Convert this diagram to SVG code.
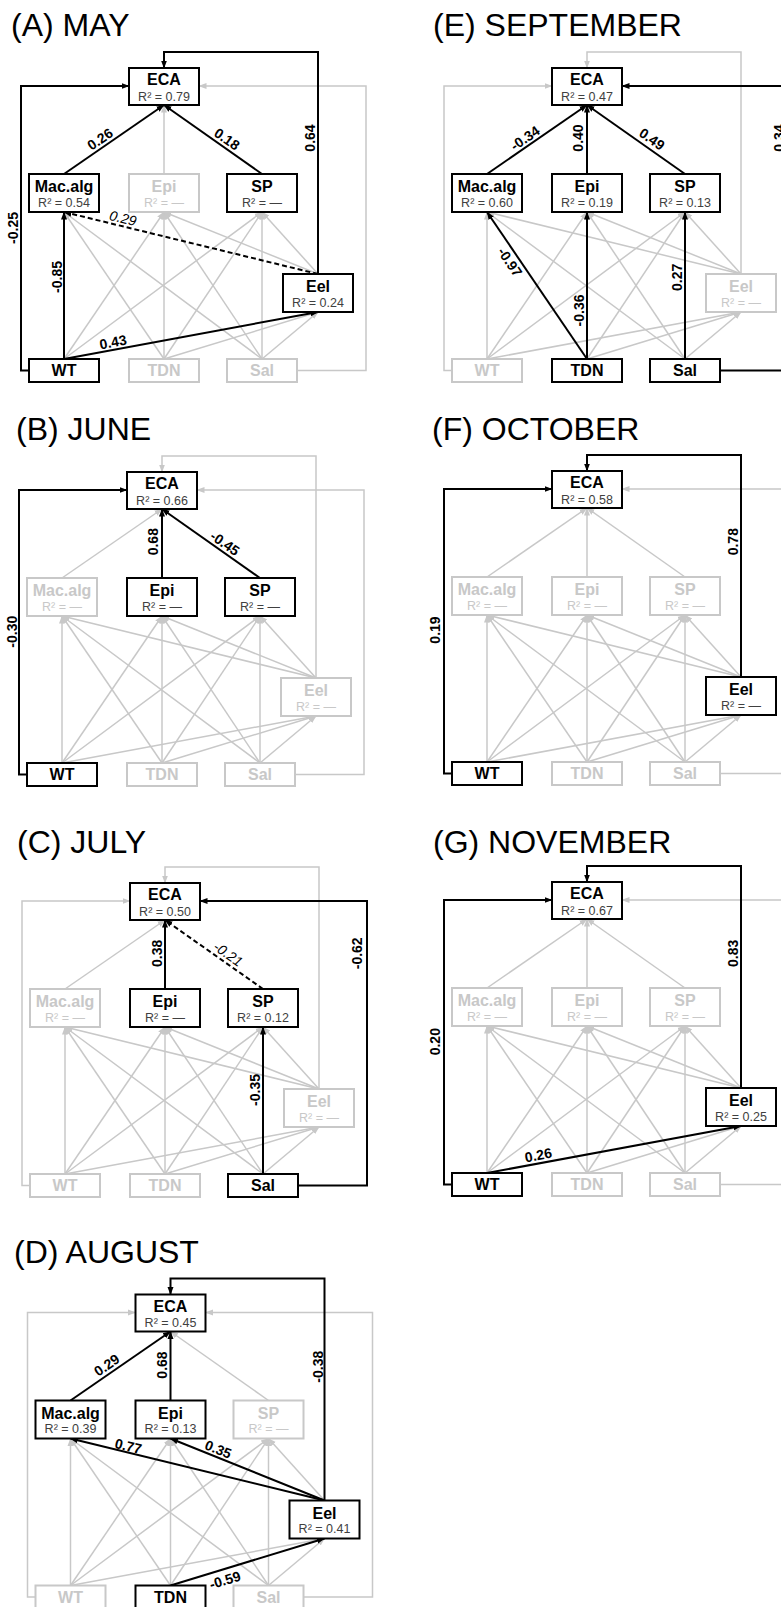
<svg xmlns="http://www.w3.org/2000/svg" width="781" height="1607" viewBox="0 0 781 1607">
<style>
.bg{fill:#fff}
.t{font-family:"Liberation Sans",Arial,sans-serif;font-size:32px;fill:#000}
.g{fill:none;stroke:#c8c8c8;stroke-width:1.5;marker-end:url(#ag)}
.k{fill:none;stroke:#000;stroke-width:2;marker-end:url(#ak)}
.d{stroke-dasharray:5 3}
.nk rect{fill:#fff;stroke:#000;stroke-width:2}
.ng rect{fill:#fff;stroke:#c8c8c8;stroke-width:2}
.n{font-family:"Liberation Sans",Arial,sans-serif;font-size:16px;font-weight:bold;text-anchor:middle}
.r{font-family:"Liberation Sans",Arial,sans-serif;font-size:12.5px;text-anchor:middle}
.nk .n{fill:#000}
.nk .r{fill:#404040}
.ng text{fill:#c8c8c8}
.l{font-family:"Liberation Sans",Arial,sans-serif;font-size:14px;font-weight:bold;text-anchor:middle;fill:#000}
.i{font-weight:normal;font-style:italic}
</style>
<defs>
<marker id="ak" markerUnits="userSpaceOnUse" markerWidth="8" markerHeight="8" viewBox="0 0 8 8" refX="7.5" refY="4" orient="auto"><path d="M0,1 L8,4 L0,7 Z" fill="#000"/></marker>
<marker id="ag" markerUnits="userSpaceOnUse" markerWidth="8" markerHeight="8" viewBox="0 0 8 8" refX="7.5" refY="4" orient="auto"><path d="M0,1 L8,4 L0,7 Z" fill="#c8c8c8"/></marker>
</defs>
<rect class="bg" x="0" y="0" width="781" height="1607"/>

<text class="t" x="11" y="36">(A) MAY</text>
<text class="t" x="433" y="36">(E) SEPTEMBER</text>
<text class="t" x="16" y="440">(B) JUNE</text>
<text class="t" x="432" y="440">(F) OCTOBER</text>
<text class="t" x="17" y="853">(C) JULY</text>
<text class="t" x="433" y="853">(G) NOVEMBER</text>
<text class="t" x="14" y="1263">(D) AUGUST</text>

<!-- PANEL A -->
<g id="panelA" transform="translate(0,0)">
<g id="A-connectors">
<path class="g" d="M164,174L164,105"/>
<path class="g" d="M64,359L164,212"/>
<path class="g" d="M64,359L262,212"/>
<path class="g" d="M164,359L64,212"/>
<path class="g" d="M164,359L164,212"/>
<path class="g" d="M164,359L262,212"/>
<path class="g" d="M164,359L318,312"/>
<path class="g" d="M262,359L64,212"/>
<path class="g" d="M262,359L164,212"/>
<path class="g" d="M262,359L262,212"/>
<path class="g" d="M262,359L318,312"/>
<path class="g" d="M318,274L164,212"/>
<path class="g" d="M318,274L262,212"/>
<path class="g" d="M297,370.5H366V86H199"/>
<path class="k" d="M64,174L164,105"/>
<path class="k" d="M262,174L164,105"/>
<path class="k" d="M64,359L64,212"/>
<path class="k d" d="M318,274L64,212"/>
<path class="k" d="M64,359L318,312"/>
<path class="k" d="M318,274V52H164V68"/>
<path class="k" d="M29,370.5H21V86H129"/>
<text class="l" transform="translate(100,139) rotate(-34.6)" y="5">0.26</text>
<text class="l" transform="translate(227,139) rotate(35.1)" y="5">0.18</text>
<text class="l" transform="translate(57,277) rotate(-90)" y="5">-0.85</text>
<text class="l i" transform="translate(123,218) rotate(13.7)" y="5">0.29</text>
<text class="l" transform="translate(310,138) rotate(-90)" y="5">0.64</text>
<text class="l" transform="translate(13,228) rotate(-90)" y="5">-0.25</text>
<text class="l" transform="translate(113,342) rotate(-10.5)" y="5">0.43</text>
</g>
<g id="A-ECA" class="nk"><rect x="129" y="68" width="70" height="37"/><text class="n" x="164" y="85">ECA</text><text class="r" x="164" y="100.5">R² = 0.79</text></g>
<g id="A-Macalg" class="nk"><rect x="29" y="174" width="70" height="38"/><text class="n" x="64" y="192">Mac.alg</text><text class="r" x="64" y="206.5">R² = 0.54</text></g>
<g id="A-Epi" class="ng"><rect x="129" y="174" width="70" height="38"/><text class="n" x="164" y="192">Epi</text><text class="r" x="164" y="206.5">R² = —</text></g>
<g id="A-SP" class="nk"><rect x="227" y="174" width="70" height="38"/><text class="n" x="262" y="192">SP</text><text class="r" x="262" y="206.5">R² = —</text></g>
<g id="A-Eel" class="nk"><rect x="283" y="274" width="70" height="38"/><text class="n" x="318" y="292">Eel</text><text class="r" x="318" y="306.5">R² = 0.24</text></g>
<g id="A-WT" class="nk"><rect x="29" y="359" width="70" height="23"/><text class="n" x="64" y="376">WT</text></g>
<g id="A-TDN" class="ng"><rect x="129" y="359" width="70" height="23"/><text class="n" x="164" y="376">TDN</text></g>
<g id="A-Sal" class="ng"><rect x="227" y="359" width="70" height="23"/><text class="n" x="262" y="376">Sal</text></g>
</g>

<!-- PANEL E -->
<g id="panelE" transform="translate(423,0)">
<g id="E-connectors">
<path class="g" d="M64,359L64,212"/>
<path class="g" d="M64,359L164,212"/>
<path class="g" d="M64,359L262,212"/>
<path class="g" d="M64,359L318,312"/>
<path class="g" d="M164,359L262,212"/>
<path class="g" d="M164,359L318,312"/>
<path class="g" d="M262,359L64,212"/>
<path class="g" d="M262,359L164,212"/>
<path class="g" d="M262,359L318,312"/>
<path class="g" d="M318,274L64,212"/>
<path class="g" d="M318,274L164,212"/>
<path class="g" d="M318,274L262,212"/>
<path class="g" d="M29,370.5H21V86H129"/>
<path class="g" d="M318,274V52H164V68"/>
<path class="k" d="M64,174L164,105"/>
<path class="k" d="M164,174L164,105"/>
<path class="k" d="M262,174L164,105"/>
<path class="k" d="M164,359L64,212"/>
<path class="k" d="M164,359L164,212"/>
<path class="k" d="M262,359L262,212"/>
<path class="k" d="M297,370.5H366V86H199"/>
<text class="l" transform="translate(102,138) rotate(-34.6)" y="5">-0.34</text>
<text class="l" transform="translate(155,138) rotate(-90)" y="5">0.40</text>
<text class="l" transform="translate(229,139) rotate(35.1)" y="5">0.49</text>
<text class="l" transform="translate(87,262) rotate(55.8)" y="5">-0.97</text>
<text class="l" transform="translate(156,310.5) rotate(-90)" y="5">-0.36</text>
<text class="l" transform="translate(253.7,277.3) rotate(-90)" y="5">0.27</text>
<text class="l" transform="translate(355.5,138) rotate(-90)" y="5">0.34</text>
</g>
<g id="E-ECA" class="nk"><rect x="129" y="68" width="70" height="37"/><text class="n" x="164" y="85">ECA</text><text class="r" x="164" y="100.5">R² = 0.47</text></g>
<g id="E-Macalg" class="nk"><rect x="29" y="174" width="70" height="38"/><text class="n" x="64" y="192">Mac.alg</text><text class="r" x="64" y="206.5">R² = 0.60</text></g>
<g id="E-Epi" class="nk"><rect x="129" y="174" width="70" height="38"/><text class="n" x="164" y="192">Epi</text><text class="r" x="164" y="206.5">R² = 0.19</text></g>
<g id="E-SP" class="nk"><rect x="227" y="174" width="70" height="38"/><text class="n" x="262" y="192">SP</text><text class="r" x="262" y="206.5">R² = 0.13</text></g>
<g id="E-Eel" class="ng"><rect x="283" y="274" width="70" height="38"/><text class="n" x="318" y="292">Eel</text><text class="r" x="318" y="306.5">R² = —</text></g>
<g id="E-WT" class="ng"><rect x="29" y="359" width="70" height="23"/><text class="n" x="64" y="376">WT</text></g>
<g id="E-TDN" class="nk"><rect x="129" y="359" width="70" height="23"/><text class="n" x="164" y="376">TDN</text></g>
<g id="E-Sal" class="nk"><rect x="227" y="359" width="70" height="23"/><text class="n" x="262" y="376">Sal</text></g>
</g>

<!-- PANEL B -->
<g id="panelB" transform="translate(-2,404)">
<g id="B-connectors">
<path class="g" d="M64,174L164,105"/>
<path class="g" d="M64,359L64,212"/>
<path class="g" d="M64,359L164,212"/>
<path class="g" d="M64,359L262,212"/>
<path class="g" d="M64,359L318,312"/>
<path class="g" d="M164,359L64,212"/>
<path class="g" d="M164,359L164,212"/>
<path class="g" d="M164,359L262,212"/>
<path class="g" d="M164,359L318,312"/>
<path class="g" d="M262,359L64,212"/>
<path class="g" d="M262,359L164,212"/>
<path class="g" d="M262,359L262,212"/>
<path class="g" d="M262,359L318,312"/>
<path class="g" d="M318,274L64,212"/>
<path class="g" d="M318,274L164,212"/>
<path class="g" d="M318,274L262,212"/>
<path class="g" d="M297,370.5H366V86H199"/>
<path class="g" d="M318,274V52H164V68"/>
<path class="k" d="M164,174L164,105"/>
<path class="k" d="M262,174L164,105"/>
<path class="k" d="M29,370.5H21V86H129"/>
<text class="l" transform="translate(155,137.7) rotate(-90)" y="5">0.68</text>
<text class="l" transform="translate(227,139.3) rotate(35.1)" y="5">-0.45</text>
<text class="l" transform="translate(13.7,227.7) rotate(-90)" y="5">-0.30</text>
</g>
<g id="B-ECA" class="nk"><rect x="129" y="68" width="70" height="37"/><text class="n" x="164" y="85">ECA</text><text class="r" x="164" y="100.5">R² = 0.66</text></g>
<g id="B-Macalg" class="ng"><rect x="29" y="174" width="70" height="38"/><text class="n" x="64" y="192">Mac.alg</text><text class="r" x="64" y="206.5">R² = —</text></g>
<g id="B-Epi" class="nk"><rect x="129" y="174" width="70" height="38"/><text class="n" x="164" y="192">Epi</text><text class="r" x="164" y="206.5">R² = —</text></g>
<g id="B-SP" class="nk"><rect x="227" y="174" width="70" height="38"/><text class="n" x="262" y="192">SP</text><text class="r" x="262" y="206.5">R² = —</text></g>
<g id="B-Eel" class="ng"><rect x="283" y="274" width="70" height="38"/><text class="n" x="318" y="292">Eel</text><text class="r" x="318" y="306.5">R² = —</text></g>
<g id="B-WT" class="nk"><rect x="29" y="359" width="70" height="23"/><text class="n" x="64" y="376">WT</text></g>
<g id="B-TDN" class="ng"><rect x="129" y="359" width="70" height="23"/><text class="n" x="164" y="376">TDN</text></g>
<g id="B-Sal" class="ng"><rect x="227" y="359" width="70" height="23"/><text class="n" x="262" y="376">Sal</text></g>
</g>

<!-- PANEL F -->
<g id="panelF" transform="translate(423,403)">
<g id="F-connectors">
<path class="g" d="M64,174L164,105"/>
<path class="g" d="M164,174L164,105"/>
<path class="g" d="M262,174L164,105"/>
<path class="g" d="M64,359L64,212"/>
<path class="g" d="M64,359L164,212"/>
<path class="g" d="M64,359L262,212"/>
<path class="g" d="M64,359L318,312"/>
<path class="g" d="M164,359L64,212"/>
<path class="g" d="M164,359L164,212"/>
<path class="g" d="M164,359L262,212"/>
<path class="g" d="M164,359L318,312"/>
<path class="g" d="M262,359L64,212"/>
<path class="g" d="M262,359L164,212"/>
<path class="g" d="M262,359L262,212"/>
<path class="g" d="M262,359L318,312"/>
<path class="g" d="M318,274L64,212"/>
<path class="g" d="M318,274L164,212"/>
<path class="g" d="M318,274L262,212"/>
<path class="g" d="M297,370.5H366V86H199"/>
<path class="k" d="M318,274V52H164V68"/>
<path class="k" d="M29,370.5H21V86H129"/>
<text class="l" transform="translate(310.3,138.7) rotate(-90)" y="5">0.78</text>
<text class="l" transform="translate(12,227) rotate(-90)" y="5">0.19</text>
</g>
<g id="F-ECA" class="nk"><rect x="129" y="68" width="70" height="37"/><text class="n" x="164" y="85">ECA</text><text class="r" x="164" y="100.5">R² = 0.58</text></g>
<g id="F-Macalg" class="ng"><rect x="29" y="174" width="70" height="38"/><text class="n" x="64" y="192">Mac.alg</text><text class="r" x="64" y="206.5">R² = —</text></g>
<g id="F-Epi" class="ng"><rect x="129" y="174" width="70" height="38"/><text class="n" x="164" y="192">Epi</text><text class="r" x="164" y="206.5">R² = —</text></g>
<g id="F-SP" class="ng"><rect x="227" y="174" width="70" height="38"/><text class="n" x="262" y="192">SP</text><text class="r" x="262" y="206.5">R² = —</text></g>
<g id="F-Eel" class="nk"><rect x="283" y="274" width="70" height="38"/><text class="n" x="318" y="292">Eel</text><text class="r" x="318" y="306.5">R² = —</text></g>
<g id="F-WT" class="nk"><rect x="29" y="359" width="70" height="23"/><text class="n" x="64" y="376">WT</text></g>
<g id="F-TDN" class="ng"><rect x="129" y="359" width="70" height="23"/><text class="n" x="164" y="376">TDN</text></g>
<g id="F-Sal" class="ng"><rect x="227" y="359" width="70" height="23"/><text class="n" x="262" y="376">Sal</text></g>
</g>

<!-- PANEL C -->
<g id="panelC" transform="translate(1,815)">
<g id="C-connectors">
<path class="g" d="M64,174L164,105"/>
<path class="g" d="M64,359L64,212"/>
<path class="g" d="M64,359L164,212"/>
<path class="g" d="M64,359L262,212"/>
<path class="g" d="M64,359L318,312"/>
<path class="g" d="M164,359L64,212"/>
<path class="g" d="M164,359L164,212"/>
<path class="g" d="M164,359L262,212"/>
<path class="g" d="M164,359L318,312"/>
<path class="g" d="M262,359L64,212"/>
<path class="g" d="M262,359L164,212"/>
<path class="g" d="M262,359L318,312"/>
<path class="g" d="M318,274L64,212"/>
<path class="g" d="M318,274L164,212"/>
<path class="g" d="M318,274L262,212"/>
<path class="g" d="M29,370.5H21V86H129"/>
<path class="g" d="M318,274V52H164V68"/>
<path class="k" d="M164,174L164,105"/>
<path class="k d" d="M262,174L164,105"/>
<path class="k" d="M262,359L262,212"/>
<path class="k" d="M297,370.5H366V86H199"/>
<text class="l" transform="translate(155.7,138.3) rotate(-90)" y="5">0.38</text>
<text class="l i" transform="translate(227.3,139) rotate(35.1)" y="5">-0.21</text>
<text class="l" transform="translate(254,275) rotate(-90)" y="5">-0.35</text>
<text class="l" transform="translate(355.7,138.3) rotate(-90)" y="5">-0.62</text>
</g>
<g id="C-ECA" class="nk"><rect x="129" y="68" width="70" height="37"/><text class="n" x="164" y="85">ECA</text><text class="r" x="164" y="100.5">R² = 0.50</text></g>
<g id="C-Macalg" class="ng"><rect x="29" y="174" width="70" height="38"/><text class="n" x="64" y="192">Mac.alg</text><text class="r" x="64" y="206.5">R² = —</text></g>
<g id="C-Epi" class="nk"><rect x="129" y="174" width="70" height="38"/><text class="n" x="164" y="192">Epi</text><text class="r" x="164" y="206.5">R² = —</text></g>
<g id="C-SP" class="nk"><rect x="227" y="174" width="70" height="38"/><text class="n" x="262" y="192">SP</text><text class="r" x="262" y="206.5">R² = 0.12</text></g>
<g id="C-Eel" class="ng"><rect x="283" y="274" width="70" height="38"/><text class="n" x="318" y="292">Eel</text><text class="r" x="318" y="306.5">R² = —</text></g>
<g id="C-WT" class="ng"><rect x="29" y="359" width="70" height="23"/><text class="n" x="64" y="376">WT</text></g>
<g id="C-TDN" class="ng"><rect x="129" y="359" width="70" height="23"/><text class="n" x="164" y="376">TDN</text></g>
<g id="C-Sal" class="nk"><rect x="227" y="359" width="70" height="23"/><text class="n" x="262" y="376">Sal</text></g>
</g>

<!-- PANEL G -->
<g id="panelG" transform="translate(423,814)">
<g id="G-connectors">
<path class="g" d="M64,174L164,105"/>
<path class="g" d="M164,174L164,105"/>
<path class="g" d="M262,174L164,105"/>
<path class="g" d="M64,359L64,212"/>
<path class="g" d="M64,359L164,212"/>
<path class="g" d="M64,359L262,212"/>
<path class="g" d="M164,359L64,212"/>
<path class="g" d="M164,359L164,212"/>
<path class="g" d="M164,359L262,212"/>
<path class="g" d="M164,359L318,312"/>
<path class="g" d="M262,359L64,212"/>
<path class="g" d="M262,359L164,212"/>
<path class="g" d="M262,359L262,212"/>
<path class="g" d="M262,359L318,312"/>
<path class="g" d="M318,274L64,212"/>
<path class="g" d="M318,274L164,212"/>
<path class="g" d="M318,274L262,212"/>
<path class="g" d="M297,370.5H366V86H199"/>
<path class="k" d="M64,359L318,312"/>
<path class="k" d="M318,274V52H164V68"/>
<path class="k" d="M29,370.5H21V86H129"/>
<text class="l" transform="translate(310.3,139.3) rotate(-90)" y="5">0.83</text>
<text class="l" transform="translate(12,227.7) rotate(-90)" y="5">0.20</text>
<text class="l" transform="translate(115.3,341) rotate(-10.5)" y="5">0.26</text>
</g>
<g id="G-ECA" class="nk"><rect x="129" y="68" width="70" height="37"/><text class="n" x="164" y="85">ECA</text><text class="r" x="164" y="100.5">R² = 0.67</text></g>
<g id="G-Macalg" class="ng"><rect x="29" y="174" width="70" height="38"/><text class="n" x="64" y="192">Mac.alg</text><text class="r" x="64" y="206.5">R² = —</text></g>
<g id="G-Epi" class="ng"><rect x="129" y="174" width="70" height="38"/><text class="n" x="164" y="192">Epi</text><text class="r" x="164" y="206.5">R² = —</text></g>
<g id="G-SP" class="ng"><rect x="227" y="174" width="70" height="38"/><text class="n" x="262" y="192">SP</text><text class="r" x="262" y="206.5">R² = —</text></g>
<g id="G-Eel" class="nk"><rect x="283" y="274" width="70" height="38"/><text class="n" x="318" y="292">Eel</text><text class="r" x="318" y="306.5">R² = 0.25</text></g>
<g id="G-WT" class="nk"><rect x="29" y="359" width="70" height="23"/><text class="n" x="64" y="376">WT</text></g>
<g id="G-TDN" class="ng"><rect x="129" y="359" width="70" height="23"/><text class="n" x="164" y="376">TDN</text></g>
<g id="G-Sal" class="ng"><rect x="227" y="359" width="70" height="23"/><text class="n" x="262" y="376">Sal</text></g>
</g>

<!-- PANEL D -->
<g id="panelD" transform="translate(6.5,1226.5)">
<g id="D-connectors">
<path class="g" d="M262,174L164,105"/>
<path class="g" d="M64,359L64,212"/>
<path class="g" d="M64,359L164,212"/>
<path class="g" d="M64,359L262,212"/>
<path class="g" d="M64,359L318,312"/>
<path class="g" d="M164,359L64,212"/>
<path class="g" d="M164,359L164,212"/>
<path class="g" d="M164,359L262,212"/>
<path class="g" d="M262,359L64,212"/>
<path class="g" d="M262,359L164,212"/>
<path class="g" d="M262,359L262,212"/>
<path class="g" d="M262,359L318,312"/>
<path class="g" d="M318,274L262,212"/>
<path class="g" d="M29,370.5H21V86H129"/>
<path class="g" d="M297,370.5H366V86H199"/>
<path class="k" d="M64,174L164,105"/>
<path class="k" d="M164,174L164,105"/>
<path class="k" d="M318,274L64,212"/>
<path class="k" d="M318,274L164,212"/>
<path class="k" d="M164,359L318,312"/>
<path class="k" d="M318,274V52H164V68"/>
<text class="l" transform="translate(100.2,138.5) rotate(-34.6)" y="5">0.29</text>
<text class="l" transform="translate(155.8,138.5) rotate(-90)" y="5">0.68</text>
<text class="l" transform="translate(121.8,219.5) rotate(13.7)" y="5">0.77</text>
<text class="l" transform="translate(211.8,222.8) rotate(21.9)" y="5">0.35</text>
<text class="l" transform="translate(218.5,353.5) rotate(-17)" y="5">-0.59</text>
<text class="l" transform="translate(311.8,140.2) rotate(-90)" y="5">-0.38</text>
</g>
<g id="D-ECA" class="nk"><rect x="129" y="68" width="70" height="37"/><text class="n" x="164" y="85">ECA</text><text class="r" x="164" y="100.5">R² = 0.45</text></g>
<g id="D-Macalg" class="nk"><rect x="29" y="174" width="70" height="38"/><text class="n" x="64" y="192">Mac.alg</text><text class="r" x="64" y="206.5">R² = 0.39</text></g>
<g id="D-Epi" class="nk"><rect x="129" y="174" width="70" height="38"/><text class="n" x="164" y="192">Epi</text><text class="r" x="164" y="206.5">R² = 0.13</text></g>
<g id="D-SP" class="ng"><rect x="227" y="174" width="70" height="38"/><text class="n" x="262" y="192">SP</text><text class="r" x="262" y="206.5">R² = —</text></g>
<g id="D-Eel" class="nk"><rect x="283" y="274" width="70" height="38"/><text class="n" x="318" y="292">Eel</text><text class="r" x="318" y="306.5">R² = 0.41</text></g>
<g id="D-WT" class="ng"><rect x="29" y="359" width="70" height="23"/><text class="n" x="64" y="376">WT</text></g>
<g id="D-TDN" class="nk"><rect x="129" y="359" width="70" height="23"/><text class="n" x="164" y="376">TDN</text></g>
<g id="D-Sal" class="ng"><rect x="227" y="359" width="70" height="23"/><text class="n" x="262" y="376">Sal</text></g>
</g>
</svg>
